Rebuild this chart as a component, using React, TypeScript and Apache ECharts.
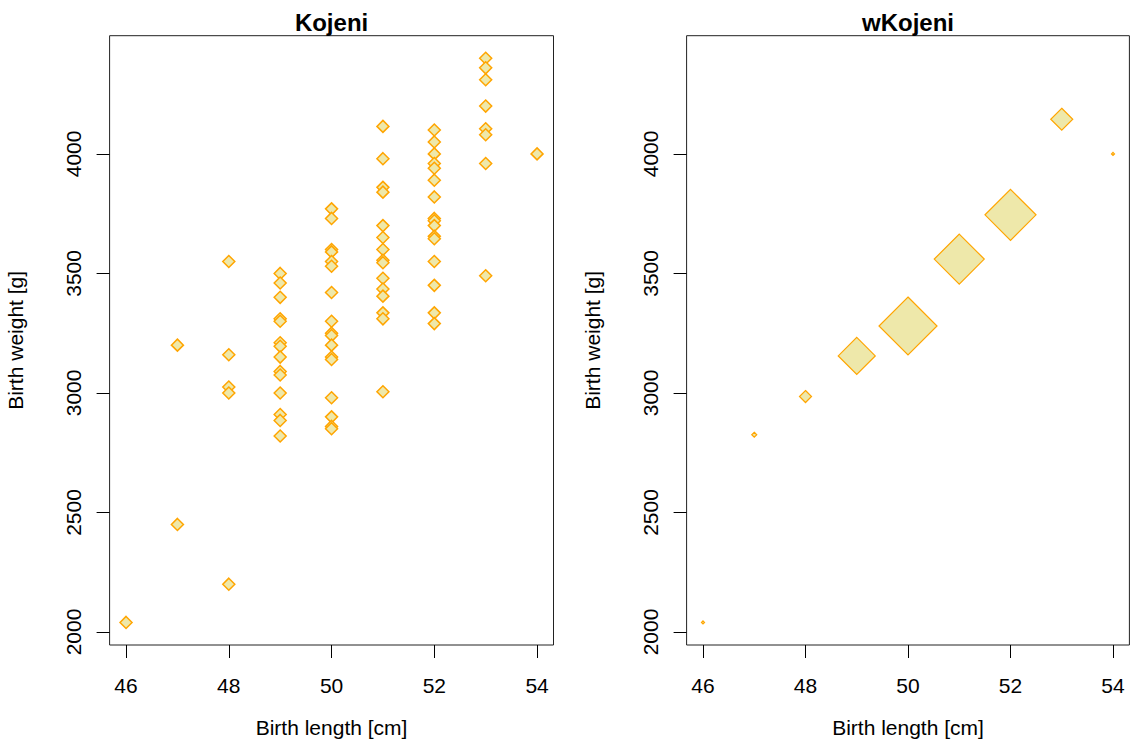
import { useEffect, useRef } from "react";
import * as echarts from "echarts";

// Left panel ("Kojeni"): one point per baby
const birthLength = [
  46,
  47, 47,
  48, 48, 48, 48, 48,
  49, 49, 49, 49, 49, 49, 49, 49, 49, 49, 49, 49, 49, 49,
  50, 50, 50, 50, 50, 50, 50, 50, 50, 50, 50, 50, 50, 50, 50, 50, 50,
  51, 51, 51, 51, 51, 51, 51, 51, 51, 51, 51, 51, 51, 51, 51,
  52, 52, 52, 52, 52, 52, 52, 52, 52, 52, 52, 52, 52, 52, 52, 52,
  53, 53, 53, 53, 53, 53, 53, 53,
  54,
];
const birthWeight = [
  2040,
  3200, 2450,
  3550, 3160, 3025, 3000, 2200,
  3500, 3460, 3400, 3310, 3300, 3210, 3195, 3150, 3090, 3075, 3000, 2910, 2885, 2820,
  3770, 3730, 3600, 3590, 3550, 3530, 3420, 3300, 3250, 3240, 3200, 3150, 3140, 2980, 2900, 2860, 2850,
  4115, 3980, 3860, 3840, 3700, 3650, 3600, 3555, 3545, 3480, 3435, 3405, 3335, 3310, 3005,
  4100, 4050, 4000, 3960, 3940, 3890, 3820, 3730, 3720, 3700, 3655, 3645, 3550, 3450, 3335, 3290,
  4400, 4360, 4310, 4200, 4105, 4080, 3960, 3490,
  4000,
];

// Right panel ("wKojeni"): weighted points
const wLength = [46, 47, 48, 49, 50, 51, 52, 53, 54];
const wWeight = [2040, 2825, 2985, 3155, 3280, 3560, 3745, 4145, 4000];
const wSize = [3, 5, 12, 37, 58, 50, 51, 22, 3];

const xTicks = [46, 48, 50, 52, 54];
const yTicks = [2000, 2500, 3000, 3500, 4000];
const panelTitles = ["Kojeni", "wKojeni"];
const xName = "Birth length [cm]";
const yName = "Birth weight [g]";

const FONT = "Liberation Sans, Arial, Helvetica, sans-serif";
const FILL = "#EEE8AA";
const STROKE = "#FFA500";

const grids = [
  { left: 109.6, top: 35.7, width: 443.9, height: 609.3 },
  { left: 686.6, top: 35.7, width: 442.8, height: 609.3 },
];

function makeX(i: number) {
  return {
    type: "value",
    gridIndex: i,
    min: 45.68,
    max: 54.32,
    axisLine: { show: false },
    splitLine: { show: false },
    axisTick: {
      show: true,
      length: 13,
      customValues: xTicks,
      lineStyle: { color: "#000", width: 1 },
    },
    axisLabel: {
      customValues: xTicks,
      formatter: (v: number) => String(v),
      margin: 30,
      fontSize: 21,
      color: "#000",
      fontFamily: FONT,
    },
    name: xName,
    nameLocation: "middle",
    nameGap: 72,
    nameTextStyle: { fontSize: 21, color: "#000", fontFamily: FONT },
  };
}

function makeY(i: number) {
  return {
    type: "value",
    gridIndex: i,
    min: 1945.6,
    max: 4494.4,
    axisLine: { show: false },
    splitLine: { show: false },
    axisTick: {
      show: true,
      length: 13,
      customValues: yTicks,
      lineStyle: { color: "#000", width: 1 },
    },
    axisLabel: {
      customValues: yTicks,
      formatter: (v: number) => String(v),
      rotate: 90,
      margin: 26,
      fontSize: 21,
      color: "#000",
      fontFamily: FONT,
    },
    name: yName,
    nameLocation: "middle",
    nameGap: 84,
    nameTextStyle: { fontSize: 21, color: "#000", fontFamily: FONT },
  };
}

export default function App() {
  const ref = useRef<HTMLDivElement>(null);

  useEffect(() => {
    if (!ref.current) return;
    const chart = echarts.init(ref.current, null, { renderer: "svg" });
    const option = {
      animation: false,
      backgroundColor: "#fff",
      title: panelTitles.map((t, i) => ({
        text: t,
        left: grids[i].left + grids[i].width / 2,
        top: 10,
        textAlign: "center",
        padding: 0,
        textStyle: {
          fontSize: 24,
          fontWeight: "bold",
          color: "#000",
          fontFamily: FONT,
        },
      })),
      grid: grids.map((g) => ({
        ...g,
        show: true,
        borderColor: "#222",
        borderWidth: 1,
        backgroundColor: "transparent",
        containLabel: false,
      })),
      xAxis: [makeX(0), makeX(1)],
      yAxis: [makeY(0), makeY(1)],
      series: [
        {
          type: "scatter",
          xAxisIndex: 0,
          yAxisIndex: 0,
          symbol: "diamond",
          symbolSize: 12,
          silent: true,
          itemStyle: { color: FILL, borderColor: STROKE, borderWidth: 1.5, opacity: 1 },
          data: birthLength.map((x, i) => [x, birthWeight[i]]),
        },
        {
          type: "scatter",
          xAxisIndex: 1,
          yAxisIndex: 1,
          symbol: "diamond",
          symbolSize: (v: number[]) => v[2],
          silent: true,
          itemStyle: { color: FILL, borderColor: STROKE, borderWidth: 1.2, opacity: 1 },
          data: wLength.map((x, i) => [x, wWeight[i], wSize[i]]),
        },
      ],
    };
    chart.setOption(option as any);
    return () => chart.dispose();
  }, []);

  return (
    <div
      ref={ref}
      style={{ position: "fixed", left: 0, top: 0, width: 1132, height: 753 }}
    />
  );
}
